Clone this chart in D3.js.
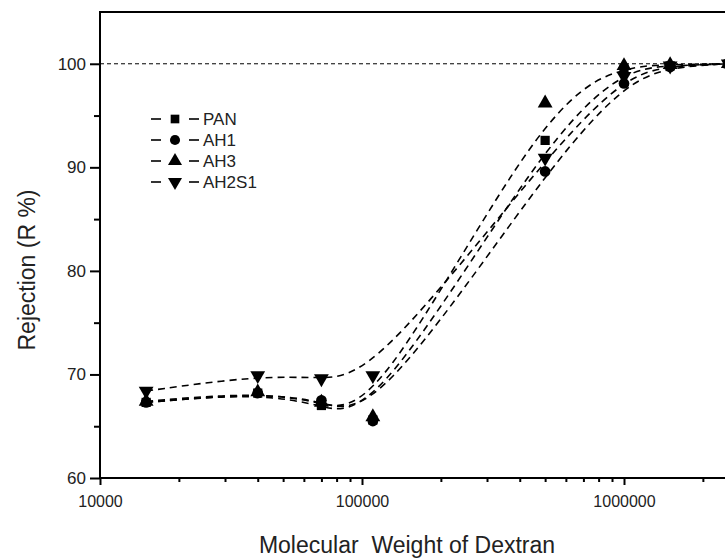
<!DOCTYPE html>
<html>
<head>
<meta charset="utf-8">
<script src="https://cdn.jsdelivr.net/npm/d3@7/dist/d3.min.js"></script>
<style>
  html, body { margin: 0; padding: 0; background: #fff; }
  svg { display: block; font-family: "Liberation Sans", Arial, sans-serif; }
</style>
</head>
<body>
<svg id="chart" width="725" height="559"></svg>
<script>
// ---- data ----
const molWeights = [15000, 40000, 70000, 110000, 500000, 1000000, 1500000, 2500000];
const seriesNames = ["PAN", "AH1", "AH3", "AH2S1"];
const PAN   = [67.3, 68.2, 67.0, 65.6, 92.6, 99.5, 99.8, 100];
const AH1   = [67.3, 68.2, 67.5, 65.5, 89.6, 98.1, 99.7, 100];
const AH3   = [67.4, 68.3, 67.3, 65.9, 96.2, 99.8, 99.9, 100];
const AH2S1 = [68.4, 69.9, 69.6, 69.9, 90.9, 98.8, 99.8, 100];
const xMajorTicks = [10000, 100000, 1000000];
const xMinorTicks = [20000, 30000, 40000, 50000, 60000, 70000, 80000, 90000,
                     200000, 300000, 400000, 500000, 600000, 700000, 800000, 900000, 2000000];
const yMajorTicks = [60, 70, 80, 90, 100];
const yMinorTicks = [65, 75, 85, 95];
const referenceLevel = 100;

const seriesValues = [PAN, AH1, AH3, AH2S1];
const markerTypes = [d3.symbolSquare, d3.symbolCircle, d3.symbolTriangle, d3.symbolTriangle];

// ---- layout ----
const svg = d3.select("#chart");
const L = 100, T = 12, B = 478, R = 725;
const x = d3.scaleLog().domain([10000, 1000000]).range([L, 624]);
const y = d3.scaleLinear().domain([60, 105]).range([B, T]);

const plot = svg.append("g");
svg.append("defs").append("clipPath").attr("id", "clip")
  .append("rect").attr("x", L).attr("y", T).attr("width", R - L).attr("height", B - T);

// reference line
plot.append("line")
  .attr("x1", L).attr("x2", R)
  .attr("y1", y(referenceLevel)).attr("y2", y(referenceLevel))
  .attr("stroke", "#000").attr("stroke-width", 1).attr("stroke-dasharray", "4,3");

// series lines
const line = d3.line()
  .x((d, i) => x(molWeights[i]))
  .y(d => y(d))
  .curve(d3.curveBasis);

const g = plot.append("g").attr("clip-path", "url(#clip)");
seriesValues.forEach((vals, si) => {
  g.append("path")
    .attr("d", line(vals))
    .attr("fill", "none")
    .attr("stroke", "#000")
    .attr("stroke-width", 1.6)
    .attr("stroke-dasharray", "7,5");
});

// markers
const symSizes = [85, 90, 95, 95];
seriesValues.forEach((vals, si) => {
  const sym = d3.symbol().type(markerTypes[si]).size(symSizes[si]);
  vals.forEach((v, i) => {
    const rot = si === 3 ? 180 : 0;
    g.append("path")
      .attr("d", sym())
      .attr("transform", `translate(${x(molWeights[i])},${y(v)}) rotate(${rot})`)
      .attr("fill", "#000");
  });
});

// axes frame
const axisG = svg.append("g").attr("stroke", "#000").attr("stroke-width", 2);
axisG.append("line").attr("x1", L).attr("x2", L).attr("y1", T).attr("y2", B + 1);
axisG.append("line").attr("x1", L - 1).attr("x2", R).attr("y1", B).attr("y2", B);
axisG.append("line").attr("x1", L - 1).attr("x2", R).attr("y1", T).attr("y2", T);

// y axis
const yAxis = d3.axisLeft(y).tickValues(yMajorTicks).tickSize(10).tickPadding(4).tickFormat(d3.format("d"));
const yg = svg.append("g").attr("transform", `translate(${L},0)`).call(yAxis);
yg.select(".domain").remove();
yg.selectAll(".tick line").attr("stroke-width", 2);
yg.selectAll("text").attr("font-size", 17).attr("fill", "#222").attr("font-family", "Liberation Sans, Arial, sans-serif");
const ygm = svg.append("g").attr("transform", `translate(${L},0)`)
  .call(d3.axisLeft(y).tickValues(yMinorTicks).tickSize(6).tickFormat(""));
ygm.select(".domain").remove();
ygm.selectAll(".tick line").attr("stroke-width", 2);

// x axis
const xAxis = d3.axisBottom(x).tickValues(xMajorTicks).tickSize(7).tickPadding(11).tickFormat(d3.format("d"));
const xg = svg.append("g").attr("transform", `translate(0,${B})`).call(xAxis);
xg.select(".domain").remove();
xg.selectAll(".tick line").attr("stroke-width", 2);
xg.selectAll("text").attr("font-size", 16).attr("fill", "#222").attr("font-family", "Liberation Sans, Arial, sans-serif");
const xgm = svg.append("g").attr("transform", `translate(0,${B})`)
  .call(d3.axisBottom(x).tickValues(xMinorTicks).tickSize(4).tickFormat(""));
xgm.select(".domain").remove();
xgm.selectAll(".tick line").attr("stroke-width", 2);

// axis titles
svg.append("text")
  .attr("x", 407).attr("y", 553)
  .attr("text-anchor", "middle")
  .attr("font-size", 23).attr("fill", "#222")
  .attr("xml:space", "preserve")
  .text("Molecular  Weight of Dextran");
svg.append("text")
  .attr("transform", "translate(35,270) rotate(-90)")
  .attr("text-anchor", "middle")
  .attr("font-size", 23).attr("fill", "#222")
  .text("Rejection (R %)");

// legend
const legend = svg.append("g");
seriesNames.forEach((name, si) => {
  const ly = 119 + si * 21;
  const lg = legend.append("g");
  lg.append("line").attr("x1", 151).attr("x2", 161).attr("y1", ly).attr("y2", ly)
    .attr("stroke", "#000").attr("stroke-width", 1.6);
  lg.append("line").attr("x1", 189).attr("x2", 199).attr("y1", ly).attr("y2", ly)
    .attr("stroke", "#000").attr("stroke-width", 1.6);
  lg.append("path")
    .attr("d", d3.symbol().type(markerTypes[si]).size(symSizes[si] - 10)())
    .attr("transform", `translate(175,${ly}) rotate(${si === 3 ? 180 : 0})`)
    .attr("fill", "#000");
  lg.append("text").attr("x", 203).attr("y", ly + 6)
    .attr("font-size", 17).attr("fill", "#222")
    .text(name);
});
</script>
</body>
</html>
